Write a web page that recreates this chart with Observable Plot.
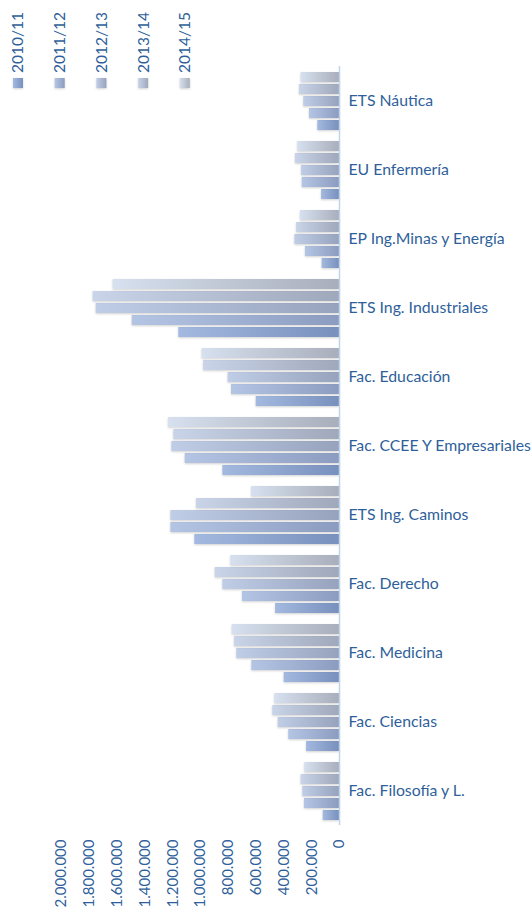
<!DOCTYPE html>
<html>
<head>
<meta charset="utf-8">
<script src="https://cdn.jsdelivr.net/npm/d3@7"></script>
<script src="https://cdn.jsdelivr.net/npm/@observablehq/plot@0.6"></script>
<style>
  body { margin: 0; background: #fff; }
  #wrap { position: relative; width: 531px; height: 907px; font-family: Lato, "Open Sans", sans-serif; color: #2f5f9a; }
  #legend { position: absolute; left: 0; top: 0; }
  svg rect[fill^="url"] { filter: drop-shadow(0px 1px 1px rgba(0,0,0,0.18)); }
</style>
</head>
<body>
<div id="wrap">
  <div id="legend"></div>
</div>
<script>
const categories = ["ETS Náutica", "EU Enfermería", "EP Ing.Minas y Energía", "ETS Ing. Industriales", "Fac. Educación", "Fac. CCEE Y Empresariales", "ETS Ing. Caminos", "Fac. Derecho", "Fac. Medicina", "Fac. Ciencias", "Fac. Filosofía y L."];
const years = ["2010/11", "2011/12", "2012/13", "2013/14", "2014/15"];
const v2010_11 = [156000, 129000, 125000, 1156000, 599000, 839000, 1041000, 460000, 398000, 237000, 117000];
const v2011_12 = [216000, 268000, 245000, 1491000, 777000, 1110000, 1213000, 698000, 631000, 365000, 252000];
const v2012_13 = [257000, 273000, 321000, 1750000, 801000, 1206000, 1213000, 839000, 739000, 441000, 264000];
const v2013_14 = [288000, 317000, 309000, 1772000, 978000, 1192000, 1029000, 894000, 755000, 480000, 276000];
const v2014_15 = [276000, 300000, 281000, 1628000, 988000, 1230000, 633000, 782000, 772000, 465000, 250000];
const xTicks = [0, 200000, 400000, 600000, 800000, 1000000, 1200000, 1400000, 1600000, 1800000, 2000000];

// gradient stops (light end, dark end) per series
const gradLight = ["#a3b9df", "#b4c5e4", "#c0cde6", "#c9d4e8", "#d6e0ee"];
const gradDark  = ["#7890bd", "#8b9cc0", "#97a3bd", "#a0a8bb", "#a9aebb"];

const series = [v2010_11, v2011_12, v2012_13, v2013_14, v2014_15];
const rows = [];
categories.forEach((c, ci) => years.forEach((y, yi) => rows.push({cat: c, year: y, value: series[yi][ci]})));

const fmt = d3.formatLocale({decimal: ",", thousands: ".", grouping: [3], currency: ["", ""]}).format(",");

const chart = Plot.plot({
  width: 531,
  height: 907,
  marginLeft: 61,
  marginRight: 192,
  marginTop: 69,
  marginBottom: 86,
  style: {fontFamily: "Lato, 'Open Sans', sans-serif", fontSize: "15px", color: "#2f5f9a", background: "transparent"},
  facet: {data: rows, y: "cat"},
  fy: {domain: categories, paddingInner: 0.145, paddingOuter: 0, axis: "right", tickSize: 0, tickPadding: 9, label: null},
  y: {domain: years, reverse: true, paddingInner: 0.17, paddingOuter: 0, axis: null},
  x: {domain: [0, 2000000], reverse: true, ticks: xTicks, tickFormat: fmt, tickRotate: -90, tickSize: 0, tickPadding: 19, label: null, axis: "bottom"},
  color: {type: "ordinal", domain: years, range: years.map((_, i) => `url(#grad${i})`)},
  marks: [
    Plot.barX(rows, {x: "value", y: "year", fill: "year"}),
    Plot.ruleX([0], {stroke: "#bcd4ec", strokeWidth: 1.5, insetTop: -5, insetBottom: -5})
  ]
});

const defs = d3.select(chart).insert("defs", ":first-child");
years.forEach((_, i) => {
  const g = defs.append("linearGradient").attr("id", `grad${i}`).attr("x1", 0).attr("x2", 1).attr("y1", 0).attr("y2", 0);
  g.append("stop").attr("offset", "0%").attr("stop-color", gradLight[i]);
  g.append("stop").attr("offset", "100%").attr("stop-color", gradDark[i]);
});

// category labels slightly larger than tick labels
d3.select(chart).selectAll("[aria-label^='fy-axis'] text").style("font-size", "15.8px");

document.getElementById("wrap").appendChild(chart);

// legend (rotated entries, drawn above the chart area in the empty top-left corner)
const leg = d3.select("#legend").append("svg").attr("width", 230).attr("height", 92)
  .style("font-family", "Lato, 'Open Sans', sans-serif").style("font-size", "15.5px");
const lgDefs = leg.append("defs");
years.forEach((y, i) => {
  const g = lgDefs.append("linearGradient").attr("id", `lg${i}`).attr("x1", 0).attr("x2", 1).attr("y1", 0).attr("y2", 0);
  g.append("stop").attr("offset", "0%").attr("stop-color", gradLight[i]);
  g.append("stop").attr("offset", "100%").attr("stop-color", gradDark[i]);
  const cx = 18 + i * 41.7;
  leg.append("rect").attr("x", cx - 5).attr("y", 78).attr("width", 10).attr("height", 10).attr("fill", `url(#lg${i})`);
  leg.append("text").attr("transform", `translate(${cx},73) rotate(-90)`).attr("dy", "0.35em")
    .attr("fill", "#2f5f9a").text(y);
});
</script>
</body>
</html>
